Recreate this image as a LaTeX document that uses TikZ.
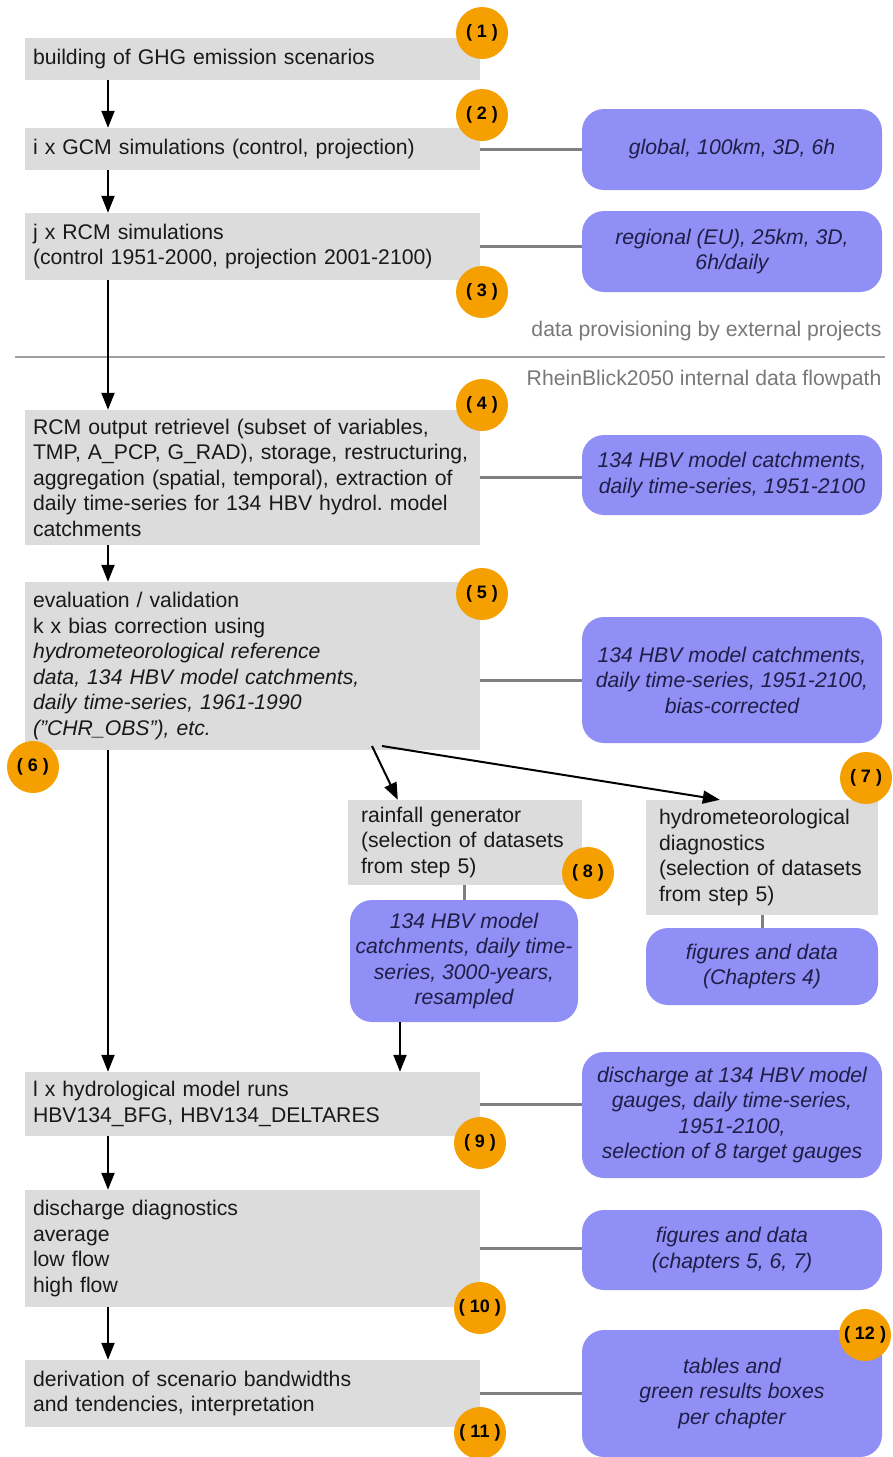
\documentclass[tikz,border=0pt]{standalone}
\usepackage{fontspec}
\setmainfont{Liberation Sans}
\usetikzlibrary{arrows.meta}
\frenchspacing

\definecolor{stepgray}{HTML}{DCDCDC}
\definecolor{infoblue}{HTML}{8F8FF5}
\definecolor{infotext}{HTML}{1E1E46}
\definecolor{badgeorange}{HTML}{F5A000}
\definecolor{tiegray}{HTML}{808080}
\definecolor{notegray}{HTML}{787878}

\tikzset{
  stepbox/.style={fill=stepgray, inner xsep=8pt, inner ysep=0pt, align=left,
    text=black!90, font=\fontsize{21.2}{25.5}\selectfont},
  infobox/.style={fill=infoblue, rounded corners=22pt, inner xsep=2pt, align=center,
    text=infotext, font=\fontsize{21.2}{25.5}\selectfont\itshape},
  badge/.style={circle, fill=badgeorange, minimum size=52pt, inner sep=0pt,
    font=\fontsize{18}{18}\selectfont\bfseries},
  flowarrow/.style={-{Triangle[length=17pt,width=13pt]}, line width=2pt},
  tieline/.style={tiegray, line width=3pt},
}

\begin{document}
\begin{tikzpicture}[x=1pt, y=-1pt]
                \useasboundingbox (0,0) rectangle (893,1457);

                % Steps of the flowpath (grey)
                \node at (252.5,59) [stepbox, text width=439pt, minimum height=42pt] (step1) {building of GHG emission scenarios};
                \node at (252.5,149) [stepbox, text width=439pt, minimum height=42pt] (step2) {i x GCM simulations (control, projection)};
                \node at (252.5,246.5) [stepbox, text width=439pt, minimum height=67pt] (step3) {j x RCM simulations\\(control 1951-2000, projection 2001-2100)};
                \node at (252.5,477.5) [stepbox, text width=439pt, minimum height=135pt] (step4) {RCM output retrievel (subset of variables,\\TMP, A\_PCP, G\_RAD), storage, restructuring,\\aggregation (spatial, temporal), extraction of\\daily time-series for 134 HBV hydrol. model\\catchments};
                \node at (252.5,666) [stepbox, text width=439pt, minimum height=168pt] (step5) {evaluation / validation\\k x bias correction using\\\textit{hydrometeorological reference}\\\textit{data, 134 HBV model catchments,}\\\textit{daily time-series, 1961-1990}\\\textit{("CHR\_OBS"), etc.}};
                \node at (465,842.5) [stepbox, inner xsep=13pt, text width=208pt, minimum height=85pt] (step8) {rainfall generator\\(selection of datasets\\from step 5)};
                \node at (762,857.5) [stepbox, inner xsep=13pt, text width=206pt, minimum height=115pt] (step7) {hydrometeorological\\diagnostics\\(selection of datasets\\from step 5)};
                \node at (252.5,1104) [stepbox, text width=439pt, minimum height=64pt] (step9) {l x hydrological model runs\\HBV134\_BFG, HBV134\_DELTARES};
                \node at (252.5,1248.5) [stepbox, text width=439pt, minimum height=117pt] (step10) {discharge diagnostics\\average\\low flow\\high flow};
                \node at (252.5,1393.5) [stepbox, text width=439pt, minimum height=67pt] (step11) {derivation of scenario bandwidths\\and tendencies, interpretation};

                % Data products (blue)
                \node at (732,149.5) [infobox, minimum width=300pt, minimum height=81pt] (info2) {global, 100km, 3D, 6h};
                \node at (732,251.5) [infobox, minimum width=300pt, minimum height=81pt] (info3) {regional (EU), 25km, 3D,\\6h/daily};
                \node at (732,475) [infobox, minimum width=300pt, minimum height=80pt] (info4) {134 HBV model catchments,\\daily time-series, 1951-2100};
                \node at (732,680) [infobox, minimum width=300pt, minimum height=126pt] (info5) {134 HBV model catchments,\\daily time-series, 1951-2100,\\bias-corrected};
                \node at (464,961) [infobox, minimum width=228pt, minimum height=122pt] (info8) {134 HBV model\\catchments, daily time-\\series, 3000-years,\\resampled};
                \node at (762,966.5) [infobox, minimum width=232pt, minimum height=77pt] (info7) {figures and data\\(Chapters 4)};
                \node at (732,1115) [infobox, minimum width=300pt, minimum height=126pt] (info9) {discharge at 134 HBV model\\gauges, daily time-series,\\1951-2100,\\selection of 8 target gauges};
                \node at (732,1250) [infobox, minimum width=300pt, minimum height=80pt] (info10) {figures and data\\(chapters 5, 6, 7)};
                \node at (732,1393.5) [infobox, minimum width=300pt, minimum height=127pt] (info11) {tables and\\green results boxes\\per chapter};

                % Separator between external and internal part
                \node at (885,331) [anchor=east, text=notegray, font=\fontsize{21.2}{25.5}\selectfont] (extnote) {data provisioning by external projects};
                \node at (885,380) [anchor=east, text=notegray, font=\fontsize{21.2}{25.5}\selectfont] (intnote) {RheinBlick2050 internal data flowpath};
                \draw[notegray!70, line width=1.5pt] (15,357) -- (885,357);

                % Arrows
                \coordinate (spine) at (108,0);
                \coordinate (drop) at (400,0);
                \coordinate (fork8) at (372,746);
                \coordinate (fork7) at (382,746);
                \draw[flowarrow] (step1.south -| spine) -- (step2.north -| spine);
                \draw[flowarrow] (step2.south -| spine) -- (step3.north -| spine);
                \draw[flowarrow] (step3.south -| spine) -- (step4.north -| spine);
                \draw[flowarrow] (step4.south -| spine) -- (step5.north -| spine);
                \draw[flowarrow] (step5.south -| spine) -- (step9.north -| spine);
                \draw[flowarrow] (step9.south -| spine) -- (step10.north -| spine);
                \draw[flowarrow] (step10.south -| spine) -- (step11.north -| spine);
                \draw[flowarrow] (fork8) -- ([xshift=50pt]step8.north west);
                \draw[flowarrow] (fork7) -- ([xshift=74pt]step7.north west);
                \draw[flowarrow] (info8.south -| drop) -- (step9.north -| drop);

                % Ties to data products
                \draw[tieline] (step2.east) -- (step2.east -| info2.west);
                \draw[tieline] (step3.east) -- (step3.east -| info3.west);
                \draw[tieline] (step4.east) -- (step4.east -| info4.west);
                \draw[tieline] (info5.west -| step5.east) -- (info5.west);
                \draw[tieline] (info8.north |- step8.south) -- (info8.north);
                \draw[tieline] (step7.south) -- (info7.north);
                \draw[tieline] (step9.east) -- (step9.east -| info9.west);
                \draw[tieline] (step10.east) -- (step10.east -| info10.west);
                \draw[tieline] (step11.east) -- (step11.east -| info11.west);

                % Step numbers
                \node at (482,33) [badge] (badge1) {( 1 )};
                \node at (482,115) [badge] (badge2) {( 2 )};
                \node at (482,292) [badge] (badge3) {( 3 )};
                \node at (482,405) [badge] (badge4) {( 4 )};
                \node at (482,594) [badge] (badge5) {( 5 )};
                \node at (33,767) [badge] (badge6) {( 6 )};
                \node at (866,778) [badge] (badge7) {( 7 )};
                \node at (588,873) [badge] (badge8) {( 8 )};
                \node at (480,1143) [badge] (badge9) {( 9 )};
                \node at (480,1308) [badge] (badge10) {( 10 )};
                \node at (480,1433) [badge] (badge11) {( 11 )};
                \node at (865,1335) [badge] (badge12) {( 12 )};

                \end{tikzpicture}
\end{document}
